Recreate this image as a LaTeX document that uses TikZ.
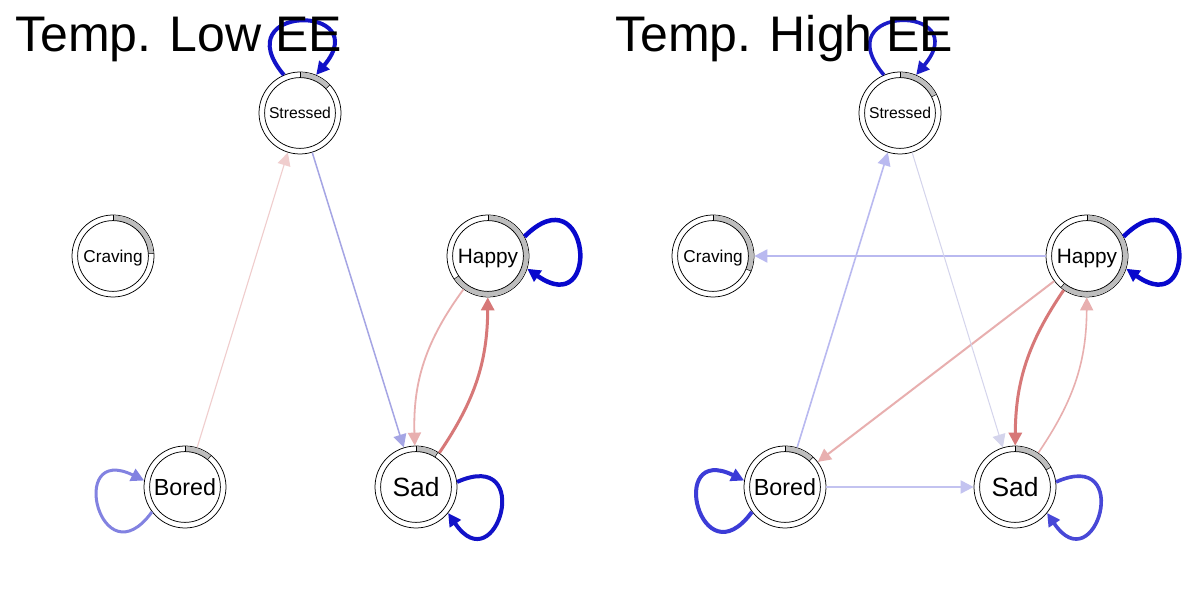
\documentclass[tikz,border=0pt]{standalone}
\usepackage{fontspec}
\setmainfont{Liberation Sans}
\usetikzlibrary{arrows.meta,calc}
\definecolor{ringgray}{RGB}{190,190,190}
\definecolor{cBlueA}{RGB}{18,18,200}
\definecolor{cBlueB}{RGB}{8,8,205}
\definecolor{cBlueC}{RGB}{130,130,225}
\definecolor{cBlueD}{RGB}{60,60,215}
\definecolor{cBlueE}{RGB}{72,72,215}
\definecolor{cBlueF}{RGB}{28,28,200}
\definecolor{cPinkFaint}{RGB}{240,205,205}
\definecolor{cBlueMid}{RGB}{165,165,228}
\definecolor{cPink}{RGB}{232,175,175}
\definecolor{cRed}{RGB}{215,120,120}
\definecolor{cBlueLight}{RGB}{185,185,240}
\definecolor{cBlueLight2}{RGB}{195,195,240}
\definecolor{cBlueFaint}{RGB}{212,212,236}
\newcommand\qring[2]{%
  \pgfmathsetmacro\qend{90-360*#2}%
  \fill[ringgray] ($(#1.center)+(90:40.6)$) arc[start angle=90, end angle=\qend, radius=40.6]
     -- ($(#1.center)+(\qend:35.6)$) arc[start angle=\qend, end angle=90, radius=35.6] -- cycle;
  \draw[line width=0.75pt] (#1.center) circle[radius=35.4];
  \draw[line width=0.75pt] ($(#1.center)+(90:35.4)$) -- ($(#1.center)+(90:41)$);
  \draw[line width=0.5pt] ($(#1.center)+(\qend:35.4)$) -- ($(#1.center)+(\qend:41)$);
}
\newcommand\qloop[5]{%
  \pgfmathtruncatemacro\qa{#2+23}%
  \pgfmathtruncatemacro\qb{#2-23}%
  \pgfmathtruncatemacro\qo{#2+40}%
  \pgfmathtruncatemacro\qi{#2-40}%
  \draw[edge=#5, draw=#4] (#1.\qa) to[out=\qo, in=\qi, distance=#3] (#1.\qb);
}
\begin{document}
\begin{tikzpicture}[x=1pt,y=1pt,
  qn/.style={circle, draw=black, line width=0.75pt, fill=white, minimum size=82pt, inner sep=0pt, text=black, text depth=0pt},
  edge/.style={line width=#1, -{Triangle[length=13pt,width=13pt]}},
  titletext/.style={anchor=base west, inner sep=0pt, font=\fontsize{50}{60}\selectfont}]
\useasboundingbox (0,0) rectangle (1200,600);
\fill[white] (0,0) rectangle (1200,600);

% ---------- left panel nodes
\node[qn, font=\fontsize{15.7}{16}\selectfont] (sL) at (300,487) {Stressed};
\node[qn, font=\fontsize{17.2}{18}\selectfont] (cL) at (113,344) {Craving};
\node[qn, font=\fontsize{20.8}{21}\selectfont] (hL) at (488,344) {Happy};
\node[qn, font=\fontsize{23.3}{24}\selectfont] (bL) at (185,113) {Bored};
\node[qn, font=\fontsize{26.4}{27}\selectfont] (dL) at (416,113) {Sad};
\qring{sL}{0.13}
\qring{cL}{0.24}
\qring{hL}{0.655}
\qring{bL}{0.11}
\qring{dL}{0.09}

% ---------- right panel nodes
\node[qn, font=\fontsize{15.7}{16}\selectfont] (sR) at (900,487) {Stressed};
\node[qn, font=\fontsize{17.2}{18}\selectfont] (cR) at (713,344) {Craving};
\node[qn, font=\fontsize{20.8}{21}\selectfont] (hR) at (1087,344) {Happy};
\node[qn, font=\fontsize{23.3}{24}\selectfont] (bR) at (785,113) {Bored};
\node[qn, font=\fontsize{26.4}{27}\selectfont] (dR) at (1015,113) {Sad};
\qring{sR}{0.175}
\qring{cR}{0.31}
\qring{hR}{0.61}
\qring{bR}{0.12}
\qring{dR}{0.17}

% ---------- left panel edges
\draw[edge=1.1pt, draw=cPinkFaint] (bL) -- (sL);
\draw[edge=1.5pt, draw=cBlueMid] (sL) -- (dL);
\draw[edge=1.8pt, draw=cPink] (hL) to[bend right=19] (dL);
\draw[edge=3pt, draw=cRed] (dL) to[bend right=17] (hL);
\qloop{sL}{90}{93pt}{cBlueA}{4pt}
\qloop{hL}{5}{92pt}{cBlueB}{4.5pt}
\qloop{dL}{-16}{86pt}{cBlueA}{4pt}
\qloop{bL}{194}{87pt}{cBlueC}{3pt}

% ---------- right panel edges
\draw[edge=2pt, draw=cBlueLight] (hR) -- (cR);
\draw[edge=2pt, draw=cPink] (hR) -- (bR);
\draw[edge=3pt, draw=cRed] (hR) to[bend right=17] (dR);
\draw[edge=1.6pt, draw=cPink] (dR) to[bend right=17] (hR);
\draw[edge=1pt, draw=cBlueFaint] (sR) -- (dR);
\draw[edge=1.6pt, draw=cBlueLight] (bR) -- (sR);
\draw[edge=2pt, draw=cBlueLight2] (bR) -- (dR);
\qloop{sR}{90}{93pt}{cBlueF}{3.6pt}
\qloop{hR}{5}{92pt}{cBlueB}{4.5pt}
\qloop{dR}{-16}{86pt}{cBlueE}{3.6pt}
\qloop{bR}{194}{87pt}{cBlueD}{4pt}

% ---------- titles
\node[titletext] (tL) at (15,548) {Temp. Low EE};
\node[titletext] (tR) at (615,548) {Temp. High EE};
\end{tikzpicture}
\end{document}
